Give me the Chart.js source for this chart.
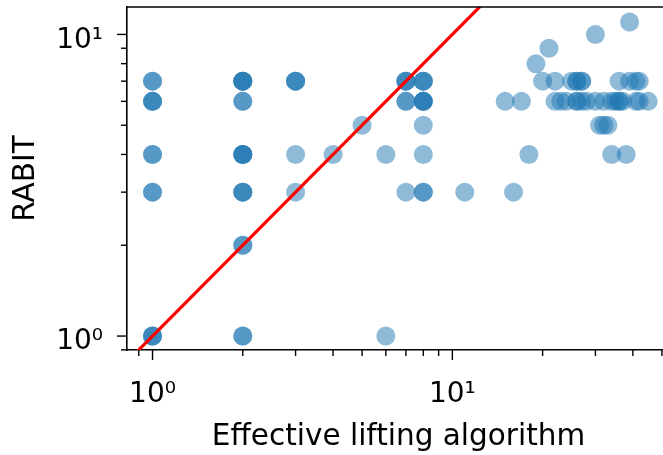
<!DOCTYPE html>
<html>
<head>
<meta charset="utf-8">
<script src="https://cdn.jsdelivr.net/npm/chart.js@4.4.1/dist/chart.umd.min.js"></script>
<style>
  html, body { margin: 0; padding: 0; background: #fff; overflow: hidden; }
  #wrap { width: 663px; height: 455px; overflow: hidden; }
</style>
</head>
<body>
<div id="wrap"><canvas id="scatterChart" width="670" height="455"></canvas></div>
<script>
// (x, y) pairs; repeated pairs are overlapping points
const scatterX = [
    1, 1, 1, 1, 1, 1, 1, 1, 1, 1, 1, 1,
    2, 2, 2, 2, 2, 2, 2, 2, 2, 2, 2, 2, 2, 2, 2, 2, 2,
    3, 3, 3, 3, 3,
    4, 5, 6, 6,
    7, 7, 7, 7, 7, 7,
    8, 8, 8, 8, 8, 8, 8, 8, 8, 8, 8,
    11, 15, 16, 17, 18, 19, 20, 21,
    22, 22, 23, 24, 25, 26, 26, 26, 26, 27, 27, 27, 28,
    30, 30, 31, 32, 32, 33, 34, 34, 35, 36, 36, 36, 37, 38,
    39, 39, 41, 41, 42, 42, 45
];
const scatterY = [
    7, 7, 6, 6, 6, 4, 4, 3, 3, 1, 1, 1,
    7, 7, 7, 7, 6, 6, 4, 4, 4, 4, 3, 3, 3, 2, 2, 1, 1,
    7, 7, 7, 4, 3,
    4, 5, 4, 1,
    7, 7, 7, 6, 6, 3,
    7, 7, 7, 6, 6, 6, 6, 5, 4, 3, 3,
    3, 6, 3, 6, 4, 8, 7, 9,
    7, 6, 6, 6, 7, 7, 7, 6, 6, 7, 7, 6, 6,
    10, 6, 5, 6, 5, 5, 6, 4, 6, 7, 6, 6, 6, 4,
    11, 7, 7, 6, 7, 6, 6
];

// y = x reference line
const diagX = [0.5, 100];
const diagY = [0.5, 100];

const xLimits = [0.822, 53.2];
const yLimits = [0.899, 12.33];

const majorTicks = [1, 10];
const majorLabels = ['10⁰', '10¹'];
const xMinorTicks = [0.9, 2, 3, 4, 5, 6, 7, 8, 9, 20, 30, 40, 50];
const yMinorTicks = [0.9, 2, 3, 4, 5, 6, 7, 8, 9];

const TICK_FONT = { family: 'DejaVu Sans', size: 28 };
const TITLE_FONT = { family: 'DejaVu Sans', size: 29.5 };

// spine on top + matplotlib style major/minor tick marks
const axesDecor = {
    id: 'axesDecor',
    afterDraw(chart) {
        const { ctx, chartArea, scales } = chart;
        ctx.save();
        ctx.strokeStyle = '#000';
        ctx.lineWidth = 1.6;
        ctx.beginPath();
        ctx.moveTo(chartArea.left, chartArea.top);
        ctx.lineTo(chartArea.right + 2, chartArea.top);
        ctx.stroke();

        ctx.lineWidth = 1.4;
        const tick = (scale, values, len) => {
            values.forEach((v) => {
                const p = scale.getPixelForValue(v);
                ctx.beginPath();
                if (scale.isHorizontal()) {
                    if (p < chartArea.left - 1 || p > chartArea.right + 1) return;
                    ctx.moveTo(p, chartArea.bottom);
                    ctx.lineTo(p, chartArea.bottom + len);
                } else {
                    if (p < chartArea.top - 1 || p > chartArea.bottom + 1) return;
                    ctx.moveTo(chartArea.left, p);
                    ctx.lineTo(chartArea.left - len, p);
                }
                ctx.stroke();
            });
        };
        tick(scales.x, majorTicks, 10);
        tick(scales.x, xMinorTicks, 6);
        tick(scales.y, majorTicks, 10);
        tick(scales.y, yMinorTicks, 6);
        ctx.restore();
    }
};

const points = scatterX.map((x, i) => ({ x: x, y: scatterY[i] }));
const diagonal = diagX.map((x, i) => ({ x: x, y: diagY[i] }));

const ctx = document.getElementById('scatterChart').getContext('2d');
new Chart(ctx, {
    type: 'scatter',
    data: {
        datasets: [
            {
                type: 'line',
                data: diagonal,
                borderColor: '#ff0000',
                borderWidth: 3.2,
                pointRadius: 0,
                fill: false,
                order: 0,
            },
            {
                data: points,
                backgroundColor: 'rgba(31, 119, 180, 0.5)',
                borderWidth: 0,
                pointRadius: 9.5,
                pointHoverRadius: 9.5,
                order: 1,
            },
        ],
    },
    options: {
        responsive: false,
        animation: false,
        devicePixelRatio: 1,
        layout: {
            autoPadding: false,
            padding: { top: 7, right: 0, left: 0, bottom: 0 },
        },
        plugins: {
            legend: { display: false },
            tooltip: { enabled: false },
        },
        scales: {
            x: {
                type: 'logarithmic',
                min: xLimits[0],
                max: xLimits[1],
                afterBuildTicks: (scale) => {
                    scale.ticks = majorTicks.map((v) => ({ value: v }));
                },
                afterFit: (scale) => {
                    scale.height = 105;
                    scale.paddingLeft = 0;
                    scale.paddingRight = 0;
                },
                ticks: {
                    font: TICK_FONT,
                    color: '#000',
                    padding: 28,
                    maxRotation: 0,
                    autoSkip: false,
                    callback: (value) => majorLabels[majorTicks.indexOf(value)] ?? '',
                },
                grid: { drawOnChartArea: false, drawTicks: false },
                border: { display: true, color: '#000', width: 1.6 },
                title: {
                    display: true,
                    text: 'Effective lifting algorithm',
                    font: TITLE_FONT,
                    color: '#000',
                    padding: { top: 0, bottom: 0 },
                },
            },
            y: {
                type: 'logarithmic',
                min: yLimits[0],
                max: yLimits[1],
                afterBuildTicks: (scale) => {
                    scale.ticks = majorTicks.map((v) => ({ value: v }));
                },
                afterFit: (scale) => {
                    scale.width = 127;
                    scale.paddingTop = 0;
                    scale.paddingBottom = 0;
                },
                ticks: {
                    font: TICK_FONT,
                    color: '#000',
                    padding: 24,
                    labelOffset: 6,
                    autoSkip: false,
                    callback: (value) => majorLabels[majorTicks.indexOf(value)] ?? '',
                },
                grid: { drawOnChartArea: false, drawTicks: false },
                border: { display: true, color: '#000', width: 1.6 },
                title: {
                    display: true,
                    text: 'RABIT',
                    font: TITLE_FONT,
                    color: '#000',
                    padding: { top: 9, bottom: 0 },
                },
            },
        },
    },
    plugins: [axesDecor],
});
</script>
</body>
</html>
